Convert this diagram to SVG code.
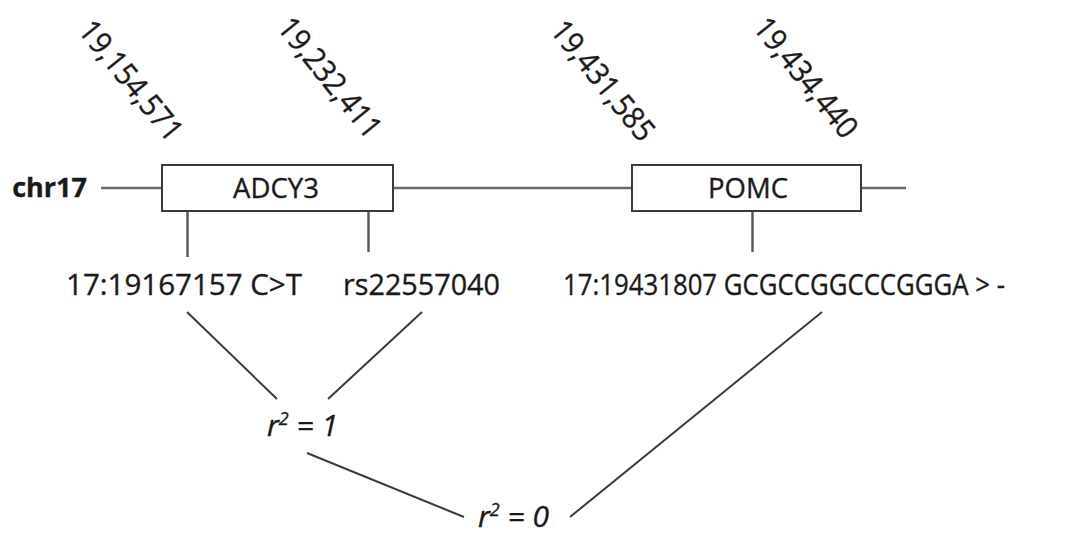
<svg xmlns="http://www.w3.org/2000/svg" width="1074" height="534" viewBox="0 0 1074 534">
<style>
.t{font-family:"Open Sans","Noto Sans",sans-serif;fill:#1a1a1a;stroke:#1a1a1a;stroke-width:0.35px}
.lbl{font-size:29px}
.gene{font-size:27.5px;text-anchor:middle}
.coord{font-size:31px}
.r{font-size:30px;font-style:italic}
.chr{stroke:#6a6a6a;stroke-width:2.5;fill:none}
.box{fill:#fff;stroke:#3a3a3a;stroke-width:2}
.tick{stroke:#5a5a5a;stroke-width:2.5}
.ld{stroke:#3a3a3a;stroke-width:2;fill:none}
</style>
<rect width="1074" height="534" fill="#fff"/>
<g id="connectors">
<line class="chr" x1="101" y1="188" x2="906" y2="188"/>
<line class="tick" x1="187.5" y1="211" x2="187.5" y2="257"/>
<line class="tick" x1="368.5" y1="211" x2="368.5" y2="252"/>
<line class="tick" x1="752.5" y1="211" x2="752.5" y2="252"/>
<line class="ld" x1="187" y1="312" x2="277" y2="399"/>
<line class="ld" x1="422" y1="312" x2="328" y2="399"/>
<line class="ld" x1="307" y1="453" x2="464" y2="517"/>
<line class="ld" x1="570" y1="517" x2="822" y2="312"/>
</g>
<g id="chr17"><text class="t" x="87" y="197" font-size="27" font-weight="bold" text-anchor="end">chr17</text></g>
<g id="adcy3">
<rect class="box" x="162" y="165" width="231" height="46"/>
<text class="t gene" x="276" y="198">ADCY3</text>
</g>
<g id="pomc">
<rect class="box" x="632" y="165" width="229" height="46"/>
<text class="t gene" x="748" y="198">POMC</text>
</g>
<g id="coord1"><text class="t coord" transform="translate(77,31) rotate(51)" textLength="145" lengthAdjust="spacingAndGlyphs">19,154,571</text></g>
<g id="coord2"><text class="t coord" transform="translate(276,28) rotate(51)" textLength="145" lengthAdjust="spacingAndGlyphs">19,232,411</text></g>
<g id="coord3"><text class="t coord" transform="translate(549,31) rotate(51)" textLength="145" lengthAdjust="spacingAndGlyphs">19,431,585</text></g>
<g id="coord4"><text class="t coord" transform="translate(752,28) rotate(51)" textLength="145" lengthAdjust="spacingAndGlyphs">19,434,440</text></g>
<g id="snp1"><text class="t lbl" x="66" y="295" textLength="236" lengthAdjust="spacingAndGlyphs">17:19167157 C&gt;T</text></g>
<g id="snp2"><text class="t lbl" x="343" y="295" textLength="157" lengthAdjust="spacingAndGlyphs">rs22557040</text></g>
<g id="snp3"><text class="t lbl" x="563" y="295" textLength="442" lengthAdjust="spacingAndGlyphs">17:19431807 GCGCCGGCCCGGGA &gt; -</text></g>
<g id="r2one"><text class="t r" x="267" y="436">r<tspan font-size="18" dy="-11">2</tspan><tspan dy="11"> = 1</tspan></text></g>
<g id="r2zero"><text class="t r" x="478" y="527">r<tspan font-size="18" dy="-11">2</tspan><tspan dy="11"> = 0</tspan></text></g>
</svg>
